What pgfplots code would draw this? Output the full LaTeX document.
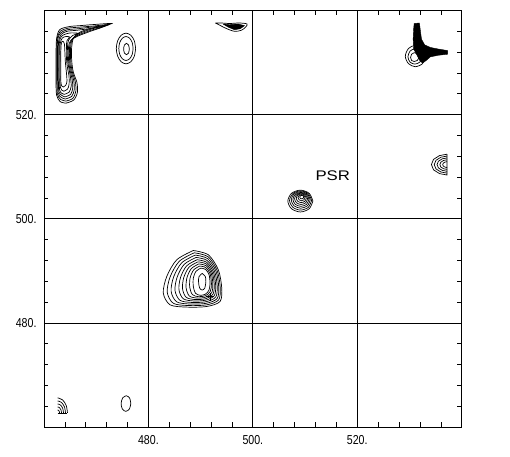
\documentclass[border=0pt]{standalone}
\usepackage{fontspec}
\setmainfont{Liberation Sans}
\newfontfamily\tickfont[FakeStretch=0.82]{Liberation Sans}
\usepackage{pgfplots}
\pgfplotsset{compat=1.18}
\pgfplotsset{
  cnt/.style={black, line width=0.7bp, smooth, mark=none},
  lin/.style={black, line width=0.7bp, sharp plot, mark=none},
  blk/.style={black, fill=black, line width=0.4bp, sharp plot, mark=none},
}
\begin{document}
\begin{tikzpicture}
\begin{axis}[
  scale only axis, width=417.7bp, height=416.5bp,
  xmin=460, xmax=540, ymin=460, ymax=540,
  axis line style={line width=0.9bp},
  xtick={480,500,520}, xticklabels={480.,500.,520.},
  ytick={480,500,520}, yticklabels={480.,500.,520.},
  minor xtick={464,468,472,476,484,488,492,496,504,508,512,516,524,528,532,536},
  minor ytick={464,468,472,476,484,488,492,496,504,508,512,516,524,528,532,536},
  tick align=inside, tick pos=both,
  major tick length=0pt, minor tick length=4.5bp,
  grid=major, major grid style={black, line width=0.7bp},
  minor tick style={black, line width=0.6bp},
  ticklabel style={font=\tickfont\fontsize{13}{13}\selectfont},
  xticklabel style={yshift=-5bp},
  yticklabel style={xshift=-4bp},
]
% top-left cluster
\addplot[cnt] coordinates {(464.2,522.2) (465.7,522.8) (466.4,524.3) (466.3,526.2) (465.6,528.2) (465.3,530.5) (465.3,533) (465.7,534.8) (467,535.9) (469.5,536.7) (473,537.5) (469.5,537.3) (467,537.1) (464.8,536.9) (463,536.3) (462.4,534.5) (462.3,531) (462.3,527) (462.4,523.8) (463.1,522.5) (464.2,522.2)};
\addplot[cnt] coordinates {(464.2,522.6) (465.5,523.1) (466.1,524.5) (466.0,526.3) (465.4,528.3) (465.1,530.5) (465.1,533) (465.5,534.6) (466.8,535.6) (469.3,536.5) (472.5,537.3) (469.3,537.0) (466.8,536.8) (464.6,536.6) (463.1,536.0) (462.5,534.4) (462.45,531) (462.45,527) (462.55,524) (463.2,522.9) (464.2,522.6)};
\addplot[cnt] coordinates {(464.1,523.0) (465.3,523.5) (465.8,524.8) (465.7,526.5) (465.2,528.4) (464.9,530.5) (464.9,533) (465.3,534.4) (466.6,535.3) (469,536.2) (472,537.1) (469,536.8) (466.6,536.5) (464.5,536.3) (463.2,535.7) (462.6,534.3) (462.6,531) (462.6,527) (462.7,524.2) (463.3,523.3) (464.1,523.0)};
\addplot[cnt] coordinates {(464.0,523.4) (465.1,523.9) (465.5,525.1) (465.4,526.7) (465.0,528.5) (464.7,530.5) (464.7,533) (465.1,534.2) (466.3,535.0) (468.6,535.9) (471.4,536.9) (468.6,536.5) (466.3,536.2) (464.4,536.0) (463.3,535.4) (462.8,534.1) (462.75,531) (462.75,527) (462.85,524.4) (463.4,523.7) (464.0,523.4)};
\addplot[cnt] coordinates {(463.9,523.9) (464.8,524.3) (465.2,525.4) (465.1,527) (464.8,528.7) (464.5,530.6) (464.5,533) (464.7,534.3) (465.5,535.2) (466.6,535.6) (465.2,535.7) (464.2,535.5) (463.3,535.0) (462.95,533.8) (462.9,531) (462.9,527) (463.0,524.7) (463.4,524.1) (463.9,523.9)};
\addplot[cnt] coordinates {(463.8,524.5) (464.5,524.9) (464.8,525.8) (464.8,527.3) (464.5,529) (464.3,530.8) (464.3,533) (464.4,534.2) (464.9,534.9) (464.2,535.0) (463.5,534.7) (463.1,533.6) (463.05,531) (463.05,527) (463.15,525.2) (463.4,524.7) (463.8,524.5)};
\addplot[cnt] coordinates {(463.7,525.3) (464.2,525.7) (464.4,526.5) (464.3,528) (464.1,530) (464.0,532) (463.9,533.6) (463.6,534.1) (463.3,533.6) (463.2,531) (463.2,528) (463.25,526) (463.4,525.5) (463.7,525.3)};
% small ellipse near 476,533
\addplot[cnt] coordinates {(477.55,532.7) (477.30,534.18) (476.63,535.25) (475.7,535.65) (474.78,535.25) (474.10,534.18) (473.85,532.7) (474.10,531.22) (474.78,530.15) (475.7,529.75) (476.63,530.15) (477.30,531.22) (477.55,532.7)};
\addplot[cnt] coordinates {(477.07,532.7) (476.89,533.85) (476.39,534.69) (475.7,535.0) (475.02,534.69) (474.51,533.85) (474.33,532.7) (474.51,531.55) (475.02,530.71) (475.7,530.4) (476.39,530.71) (476.89,531.55) (477.07,532.7)};
\addplot[cnt] coordinates {(476.35,532.6) (476.19,533.38) (475.8,533.7) (475.41,533.38) (475.25,532.6) (475.41,531.82) (475.8,531.5) (476.19,531.82) (476.35,532.6)};
% top-middle wedge
\addplot[cnt] coordinates {(492.8,537.6) (493.8,537.1) (495.0,536.5) (496.5,536.0) (497.8,536.2) (498.6,536.8) (498.9,537.4) (497.5,537.6) (495.5,537.5) (494,537.6) (492.8,537.6)};
\addplot[blk] coordinates {(494.3,537.4) (495.3,536.8) (496.5,536.3) (497.6,536.5) (498.4,537.1) (497.2,537.4) (495.5,537.3) (494.3,537.4)};
% top-right rings and black junction
\addplot[cnt] coordinates {(533.0,531.2) (532.5,532.7) (531.1,533.3) (529.8,532.7) (529.2,531.2) (529.8,529.8) (531.1,529.2) (532.5,529.8) (533.0,531.2)};
\addplot[cnt] coordinates {(532.4,531.1) (532.0,532.2) (531.0,532.6) (530.1,532.2) (529.7,531.1) (530.1,530.1) (531.0,529.7) (532.0,530.1) (532.4,531.1)};
\addplot[cnt] coordinates {(531.8,531.0) (531.5,531.6) (530.9,531.9) (530.4,531.6) (530.2,531.0) (530.4,530.4) (530.9,530.2) (531.5,530.4) (531.8,531.0)};
\addplot[blk] coordinates {(530.9,537.5) (531.9,537.6) (532.1,536) (532.3,534.5) (532.9,533.4) (534.0,532.9) (535.5,532.6) (537.3,532.3) (537.3,531.6) (535.5,531.4) (534.0,531.1) (533.2,530.4) (532.5,529.9) (531.9,530.5) (531.4,531.5) (530.8,532.6) (530.7,534.5) (530.8,536.5) (530.9,537.5)};
% right half blob
\addplot[lin] coordinates {(537.2,512.4) (535.75,512.13) (534.6,511.4) (534.2,510.4) (534.6,509.4) (535.75,508.67) (537.2,508.4) (537.2,512.4)};
\addplot[lin] coordinates {(537.2,512.04) (536.01,511.82) (535.07,511.22) (534.74,510.4) (535.07,509.58) (536.01,508.98) (537.2,508.76)};
\addplot[lin] coordinates {(537.2,511.68) (536.27,511.51) (535.54,511.04) (535.28,510.4) (535.54,509.76) (536.27,509.29) (537.2,509.12)};
\addplot[lin] coordinates {(537.2,511.32) (536.53,511.2) (536.0,510.86) (535.82,510.4) (536.0,509.94) (536.53,509.6) (537.2,509.48)};
\addplot[lin] coordinates {(537.2,510.96) (536.79,510.88) (536.47,510.68) (536.36,510.4) (536.47,510.12) (536.79,509.92) (537.2,509.84)};
% PSR blob
\addplot[cnt] coordinates {(511.5,503.4) (510.80,504.88) (509.1,505.5) (507.40,504.88) (506.7,503.4) (507.40,501.92) (509.1,501.3) (510.80,501.92) (511.5,503.4)};
\addplot[cnt] coordinates {(511.25,503.51) (510.63,504.82) (509.14,505.36) (507.65,504.82) (507.03,503.51) (507.65,502.2) (509.14,501.66) (510.63,502.2) (511.25,503.51)};
\addplot[cnt] coordinates {(510.99,503.62) (510.46,504.75) (509.17,505.22) (507.88,504.75) (507.35,503.62) (507.88,502.49) (509.17,502.02) (510.46,502.49) (510.99,503.62)};
\addplot[cnt] coordinates {(510.75,503.72) (510.30,504.67) (509.21,505.06) (508.12,504.67) (507.67,503.72) (508.12,502.77) (509.21,502.38) (510.30,502.77) (510.75,503.72)};
\addplot[cnt] coordinates {(510.49,503.83) (510.12,504.60) (509.24,504.92) (508.36,504.60) (507.99,503.83) (508.36,503.06) (509.24,502.74) (510.12,503.06) (510.49,503.83)};
\addplot[cnt] coordinates {(510.24,503.94) (509.96,504.53) (509.28,504.78) (508.60,504.53) (508.32,503.94) (508.60,503.35) (509.28,503.10) (509.96,503.35) (510.24,503.94)};
\addplot[cnt] coordinates {(509.99,504.05) (509.79,504.47) (509.32,504.64) (508.85,504.47) (508.65,504.05) (508.85,503.63) (509.32,503.46) (509.79,503.63) (509.99,504.05)};
\addplot[cnt] coordinates {(509.74,504.16) (509.63,504.40) (509.36,504.50) (509.09,504.40) (508.98,504.16) (509.09,503.92) (509.36,503.82) (509.63,503.92) (509.74,504.16)};
% big blob near 489,488
\addplot[cnt] coordinates {(488.60,493.90) (485.42,492.11) (483.51,488.91) (482.85,485.72) (484.14,483.47) (487.34,483.03) (491.17,483.15) (493.72,484.11) (494.04,486.68) (493.39,490.19) (491.48,493.07) (488.60,493.90)};
\addplot[cnt] coordinates {(488.78,493.46) (485.90,491.82) (484.17,488.87) (483.60,485.89) (484.77,483.76) (487.67,483.33) (491.14,483.46) (493.44,484.40) (493.75,486.80) (493.16,490.07) (491.41,492.71) (488.78,493.46)};
\addplot[cnt] coordinates {(488.96,493.02) (486.38,491.54) (484.83,488.83) (484.35,486.05) (485.40,484.05) (488.01,483.62) (491.10,483.76) (493.17,484.68) (493.46,486.92) (492.93,489.96) (491.33,492.35) (488.96,493.02)};
\addplot[cnt] coordinates {(489.15,492.57) (486.86,491.25) (485.50,488.79) (485.09,486.22) (486.04,484.34) (488.34,483.92) (491.07,484.07) (492.89,484.96) (493.17,487.04) (492.69,489.84) (491.25,491.99) (489.15,492.57)};
\addplot[cnt] coordinates {(489.33,492.13) (487.33,490.96) (486.16,488.75) (485.84,486.39) (486.67,484.63) (488.67,484.21) (491.03,484.37) (492.62,485.25) (492.88,487.16) (492.46,489.73) (491.18,491.63) (489.33,492.13)};
\addplot[cnt] coordinates {(489.50,491.72) (487.78,490.70) (486.77,488.71) (486.53,486.54) (487.25,484.90) (488.98,484.48) (491.00,484.65) (492.36,485.51) (492.61,487.27) (492.24,489.62) (491.11,491.30) (489.50,491.72)};
\addplot[cnt] coordinates {(489.66,491.32) (488.22,490.43) (487.38,488.67) (487.22,486.69) (487.83,485.17) (489.29,484.76) (490.97,484.94) (492.11,485.77) (492.34,487.38) (492.03,489.51) (491.04,490.97) (489.66,491.32)};
\addplot[cnt] coordinates {(489.83,490.91) (488.66,490.17) (487.99,488.64) (487.91,486.85) (488.42,485.43) (489.59,485.03) (490.93,485.22) (491.85,486.04) (492.07,487.49) (491.82,489.41) (490.97,490.63) (489.83,490.91)};
\addplot[cnt] coordinates {(490.0,490.5) (489.1,489.9) (488.6,488.6) (488.6,487.0) (489.0,485.7) (489.9,485.3) (490.9,485.5) (491.6,486.3) (491.8,487.6) (491.6,489.3) (490.9,490.3) (490.0,490.5)};
\addplot[cnt] coordinates {(490.3,489.5) (489.7,488.9) (489.6,487.9) (489.8,486.7) (490.3,486.3) (490.8,486.7) (491.0,487.9) (490.9,488.9) (490.3,489.5)};
\addplot[only marks, mark=+, mark size=4bp, black, line width=0.7bp] coordinates {(491.8,485.0)};
% bottom-left arcs
\addplot[cnt] coordinates {(462.6,465.6) (463.55,465.21) (464.25,464.15) (464.5,462.7)};
\addplot[cnt] coordinates {(462.6,465.02) (463.36,464.71) (463.92,463.86) (464.12,462.7)};
\addplot[cnt] coordinates {(462.6,464.44) (463.17,464.21) (463.59,463.57) (463.74,462.7)};
\addplot[cnt] coordinates {(462.6,463.86) (462.98,463.70) (463.26,463.28) (463.36,462.7)};
\addplot[cnt] coordinates {(462.6,463.28) (462.79,463.2) (462.93,462.99) (462.98,462.7)};
\addplot[lin] coordinates {(462.6,462.7) (464.5,462.7)};
% bottom small ellipse
\addplot[cnt] coordinates {(476.63,464.5) (476.4,465.55) (475.75,466.0) (475.05,465.55) (474.77,464.5) (475.0,463.45) (475.65,463.0) (476.35,463.45) (476.63,464.5)};
\node[font=\fontsize{14}{14}\selectfont, xscale=1.2, inner sep=0pt] at (axis cs:515.3,508.3) {PSR};
\end{axis}
\path ([xshift=-44bp,yshift=-30bp]current axis.south west) rectangle ([xshift=48.3bp,yshift=10.5bp]current axis.north east);
\end{tikzpicture}
\end{document}
